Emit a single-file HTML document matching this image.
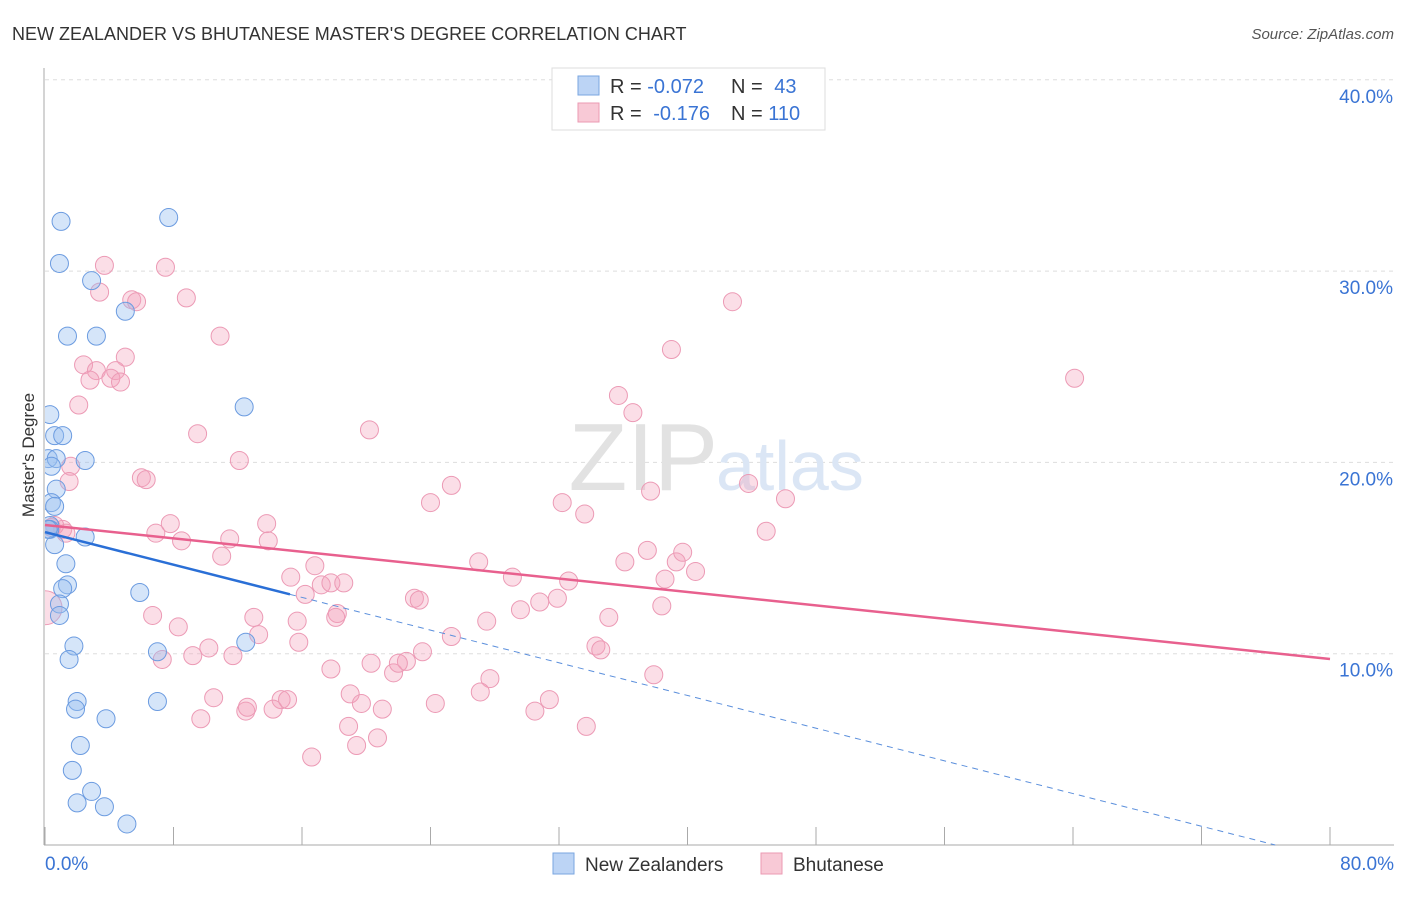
<!DOCTYPE html>
<html><head><meta charset="utf-8"><style>
body{margin:0;background:#fff;font-family:"Liberation Sans",sans-serif}
svg text{font-family:"Liberation Sans",sans-serif}
</style></head><body>
<svg id="c" width="1406" height="892" xmlns="http://www.w3.org/2000/svg">
<defs><clipPath id="plotclip"><rect x="45" y="60" width="1360" height="785"/></clipPath></defs>
<text x="12" y="40" font-size="18" fill="#333">NEW ZEALANDER VS BHUTANESE MASTER'S DEGREE CORRELATION CHART</text>
<text x="1394" y="39" font-size="15" fill="#555" font-style="italic" text-anchor="end">Source: ZipAtlas.com</text>
<g id="grid"></g>
<text x="718" y="490" font-size="96" fill="#e2e2e2" font-family="Liberation Serif" text-anchor="end">ZIP</text>
<text x="716" y="490" font-size="70" fill="#dbe6f5" text-anchor="start">atlas</text>
<g id="pts" clip-path="url(#plotclip)"></g>
<g id="lines"></g>
<text transform="translate(34,455) rotate(-90)" font-size="17" fill="#333" text-anchor="middle">Master's Degree</text>
<g>
<rect x="552" y="68" width="273" height="62" fill="#fff" stroke="#ddd"/>
<rect x="578" y="76" width="21" height="19" fill="#bcd4f5" stroke="#7aa6e0"/>
<rect x="578" y="103" width="21" height="19" fill="#f8c9d6" stroke="#eb9ab3"/>
<text x="610" y="93" font-size="20" fill="#333">R = <tspan fill="#3a74d4">-0.072</tspan></text>
<text x="731" y="93" font-size="20" fill="#333">N = <tspan fill="#3a74d4" dx="6">43</tspan></text>
<text x="610" y="120" font-size="20" fill="#333">R = <tspan fill="#3a74d4" dx="6">-0.176</tspan></text>
<text x="731" y="120" font-size="20" fill="#333">N = <tspan fill="#3a74d4">110</tspan></text>
</g>
<g>
<rect x="553" y="853" width="21" height="21" fill="#bcd4f5" stroke="#7aa6e0"/>
<text x="585" y="871" font-size="19" fill="#333">New Zealanders</text>
<rect x="761" y="853" width="21" height="21" fill="#f8c9d6" stroke="#eb9ab3"/>
<text x="793" y="871" font-size="19" fill="#333">Bhutanese</text>
</g>
</svg>
<script>
const xTicks=[0,8,16,24,32,40,48,56,64,72,80];
const yGrid=[10,20,30,40];
const yLabels=["10.0%","20.0%","30.0%","40.0%"];
const xLabels=["0.0%","80.0%"];
const nzX=[1.0,7.7,0.9,2.9,5.0,1.4,3.2,12.4,0.3,0.6,1.1,0.2,0.7,2.5,0.4,0.7,0.4,0.6,0.3,0.3,2.5,0.6,1.3,1.4,1.1,5.9,0.9,0.9,1.8,7.0,12.5,1.5,2.0,7.0,1.9,3.8,2.2,1.7,2.9,2.0,3.7,5.1,0.2];
const nzY=[32.6,32.8,30.4,29.5,27.9,26.6,26.6,22.9,22.5,21.4,21.4,20.2,20.2,20.1,19.8,18.6,17.9,17.7,16.7,16.5,16.1,15.7,14.7,13.6,13.4,13.2,12.6,12.0,10.4,10.1,10.6,9.7,7.5,7.5,7.1,6.6,5.2,3.9,2.8,2.2,2.0,1.1,16.5];
const btX=[3.7,7.5,3.4,5.4,5.7,8.8,10.9,5.0,2.4,3.2,4.4,2.8,4.1,4.7,2.1,9.5,1.6,1.5,12.1,6.0,6.3,20.2,42.8,39.0,64.1,35.7,36.6,25.3,24.0,32.2,33.6,37.7,43.8,46.1,44.9,0.4,1.1,1.3,0.6,13.8,7.8,6.9,8.5,11.5,13.9,11.0,16.8,15.3,17.2,17.8,18.6,16.2,27.0,29.1,32.6,36.1,37.5,39.3,39.7,40.5,38.6,18.2,23.0,23.3,6.7,13.0,15.7,8.3,18.1,27.5,29.6,30.8,31.9,35.1,38.4,13.3,15.8,25.3,10.2,7.3,9.2,11.7,23.5,34.3,34.6,17.8,20.3,21.7,22.5,22.0,27.7,37.9,10.5,19.0,14.7,15.1,27.1,31.4,9.7,12.5,12.6,14.2,19.7,21.0,24.3,30.5,18.9,20.7,19.4,33.7,16.6,0];
const btY=[30.3,30.2,28.9,28.5,28.4,28.6,26.6,25.5,25.1,24.8,24.8,24.3,24.4,24.2,23.0,21.5,19.8,19.0,20.1,19.2,19.1,21.7,28.4,25.9,24.4,23.5,22.6,18.8,17.9,17.9,17.3,18.5,18.9,18.1,16.4,16.6,16.5,16.3,16.7,16.8,16.8,16.3,15.9,16.0,15.9,15.1,14.6,14.0,13.6,13.7,13.7,13.1,14.8,14.0,13.8,14.8,15.4,14.8,15.3,14.3,13.9,12.1,12.9,12.8,12.0,11.9,11.7,11.4,11.9,11.7,12.3,12.7,12.9,11.9,12.5,11.0,10.6,10.9,10.3,9.7,9.9,9.9,10.1,10.4,10.2,9.2,9.5,9.0,9.6,9.5,8.7,8.9,7.7,7.9,7.6,7.6,8.0,7.6,6.6,7.0,7.2,7.1,7.4,7.1,7.4,7.0,6.2,5.6,5.2,6.2,4.6,12.4];
const nzTrend=[16.36,-0.2136];
const btTrend=[16.73,-0.0876];
const X=v=>45+v*1285/80, Y=v=>845-v*19.13;
const NS="http://www.w3.org/2000/svg";
function mk(p,t,a){const e=document.createElementNS(NS,t);for(const k in a)e.setAttribute(k,a[k]);p.appendChild(e);return e;}
const gridG=document.getElementById('grid');
yGrid.forEach((v,i)=>{
 const l=mk(gridG,'line',{x1:45,x2:1394,y1:Y(v),y2:Y(v),stroke:'#ddd','stroke-dasharray':'4,4'});
 
 
 const t=mk(gridG,'text',{x:1393,y:Y(v)+23,'font-size':19,fill:'#3a74d4','text-anchor':'end'});
 t.textContent=yLabels[i];
 
 
});
mk(gridG,'line',{x1:44,x2:44,y1:68,y2:845,stroke:'#aaa'});
mk(gridG,'line',{x1:44,x2:1394,y1:845,y2:845,stroke:'#aaa'});
xTicks.forEach(v=>{const l=mk(gridG,'line',{x1:X(v),x2:X(v),y1:827,y2:845,stroke:'#aaa'});
 
 });
[['start',45],['end',1394]].forEach((d,i)=>{const t=mk(gridG,'text',{x:d[1],y:870,'font-size':19,fill:'#3a74d4','text-anchor':d[0]});t.textContent=xLabels[i];
 
 });
const ptsG=document.getElementById('pts');
btX.forEach((x,i)=>{const big=(x===0);const c=mk(ptsG,'circle',{cx:X(x),cy:Y(btY[i]),r:big?17:9,fill:'rgba(244,160,187,0.35)',stroke:'#ec9ab5','stroke-width':1});
 
 });
nzX.forEach((x,i)=>{const c=mk(ptsG,'circle',{cx:X(x),cy:Y(nzY[i]),r:9,fill:'rgba(150,190,240,0.4)',stroke:'#6b9be0','stroke-width':1});
 
 });
const lnG=document.getElementById('lines');
const f=(t,x)=>t[0]+t[1]*x;
const xEnd=-nzTrend[0]/nzTrend[1];
let ln1=mk(lnG,'line',{x1:X(0),y1:Y(f(nzTrend,0)),x2:X(15.25),y2:Y(f(nzTrend,15.25)),stroke:'#2a6fd6','stroke-width':2.5});


let ln2=mk(lnG,'line',{x1:X(15.25),y1:Y(f(nzTrend,15.25)),x2:X(xEnd),y2:Y(0),stroke:'#5b8fdc','stroke-width':1,'stroke-dasharray':'6,5'});


let ln3=mk(lnG,'line',{x1:X(0),y1:Y(f(btTrend,0)),x2:X(80),y2:Y(f(btTrend,80)),stroke:'#e8608e','stroke-width':2.5});


</script>
</body></html>
